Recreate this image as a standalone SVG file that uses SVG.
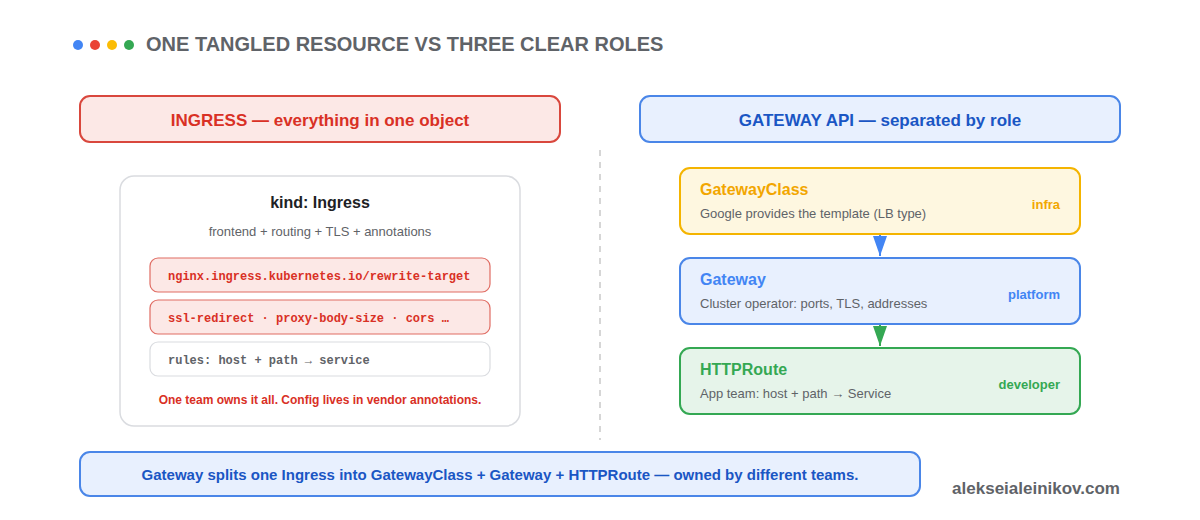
<svg xmlns="http://www.w3.org/2000/svg" width="1200" height="520" viewBox="0 0 1200 520">
<defs>
<style>
text{font-family:"Liberation Sans",Arial,sans-serif}
.title{font-size:20px;font-weight:bold;fill:#5f6368}
.hdr{font-size:17px;font-weight:bold;text-anchor:middle}
.mono{font-family:"Liberation Mono","Courier New",monospace;font-size:12px;font-weight:bold}
.sub{font-size:13px;fill:#5f6368}
.role{font-size:13px;font-weight:bold;text-anchor:end}
.nt{font-size:16px;font-weight:bold}
</style>
</defs>
<rect width="1200" height="520" fill="#ffffff"/>
<g id="legend-dots">
<circle cx="78" cy="45" r="5" fill="#4285f4"/>
<circle cx="95" cy="45" r="5" fill="#ea4335"/>
<circle cx="112" cy="45" r="5" fill="#fbbc05"/>
<circle cx="129" cy="45" r="5" fill="#34a853"/>
</g>
<text class="title" x="146" y="51">ONE TANGLED RESOURCE VS THREE CLEAR ROLES</text>

<g id="ingress-header">
<rect x="80" y="96" width="480" height="46" rx="10" fill="#fce8e6" stroke="#d9473d" stroke-width="2"/>
<text class="hdr" x="320" y="126" fill="#d93025">INGRESS — everything in one object</text>
</g>
<g id="gateway-header">
<rect x="640" y="96" width="480" height="46" rx="10" fill="#e8f0fe" stroke="#4a86e8" stroke-width="2"/>
<text class="hdr" x="880" y="126" fill="#1a56c4">GATEWAY API — separated by role</text>
</g>

<line x1="600" y1="150" x2="600" y2="440" stroke="#d6d6d6" stroke-width="2" stroke-dasharray="6 6"/>

<g id="ingress-card">
<rect x="120" y="176" width="400" height="250" rx="14" fill="#ffffff" stroke="#dadce0" stroke-width="1.5"/>
<text x="320" y="208" text-anchor="middle" font-size="16" font-weight="bold" fill="#202124">kind: Ingress</text>
<text class="sub" x="320" y="236" text-anchor="middle">frontend + routing + TLS + annotations</text>
<rect x="150" y="258" width="340" height="34" rx="8" fill="#fce8e6" stroke="#e06c63" stroke-width="1.2"/>
<text class="mono" x="168" y="280" fill="#d93025">nginx.ingress.kubernetes.io/rewrite-target</text>
<rect x="150" y="300" width="340" height="34" rx="8" fill="#fce8e6" stroke="#e06c63" stroke-width="1.2"/>
<text class="mono" x="168" y="322" fill="#d93025">ssl-redirect · proxy-body-size · cors …</text>
<rect x="150" y="342" width="340" height="34" rx="8" fill="#ffffff" stroke="#dadce0" stroke-width="1.2"/>
<text class="mono" x="168" y="364" fill="#5f6368">rules: host + path → service</text>
<text x="320" y="404" text-anchor="middle" font-size="12" font-weight="bold" fill="#d93025">One team owns it all. Config lives in vendor annotations.</text>
</g>

<g id="connectors">
<line x1="880" y1="234" x2="880" y2="256" stroke="#4285f4" stroke-width="2"/>
<path d="M873,236 L887,236 L880,256 Z" fill="#4285f4"/>
<line x1="880" y1="324" x2="880" y2="346" stroke="#34a853" stroke-width="2"/>
<path d="M873,326 L887,326 L880,346 Z" fill="#34a853"/>
</g>

<g id="gatewayclass">
<rect x="680" y="168" width="400" height="66" rx="10" fill="#fef7e0" stroke="#f4b400" stroke-width="2"/>
<text class="nt" x="700" y="195" fill="#f2a600">GatewayClass</text>
<text class="sub" x="700" y="218">Google provides the template (LB type)</text>
<text class="role" x="1060" y="209" fill="#f2a600">infra</text>
</g>
<g id="gateway">
<rect x="680" y="258" width="400" height="66" rx="10" fill="#e8f0fe" stroke="#4a86e8" stroke-width="2"/>
<text class="nt" x="700" y="285" fill="#4285f4">Gateway</text>
<text class="sub" x="700" y="308">Cluster operator: ports, TLS, addresses</text>
<text class="role" x="1060" y="299" fill="#4285f4">platform</text>
</g>
<g id="httproute">
<rect x="680" y="348" width="400" height="66" rx="10" fill="#e6f4ea" stroke="#34a853" stroke-width="2"/>
<text class="nt" x="700" y="375" fill="#34a853">HTTPRoute</text>
<text class="sub" x="700" y="398">App team: host + path → Service</text>
<text class="role" x="1060" y="389" fill="#34a853">developer</text>
</g>

<g id="summary">
<rect x="80" y="452" width="840" height="44" rx="10" fill="#e8f0fe" stroke="#4a86e8" stroke-width="2"/>
<text x="500" y="480" text-anchor="middle" font-size="15" font-weight="bold" fill="#1a56c4">Gateway splits one Ingress into GatewayClass + Gateway + HTTPRoute — owned by different teams.</text>
</g>
<text x="1120" y="494" text-anchor="end" font-size="17" font-weight="bold" fill="#5f6368">alekseialeinikov.com</text>
</svg>
